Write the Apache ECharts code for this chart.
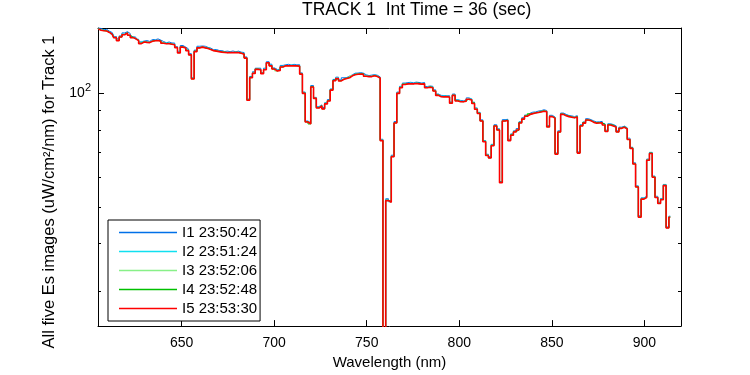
<!DOCTYPE html>
<html>
  <head>
    <meta charset="utf-8" />
    <title>TRACK 1 Es images</title>
    <script src="https://cdn.jsdelivr.net/npm/echarts@6/dist/echarts.min.js"></script>
    <style>
      html, body { margin: 0; padding: 0; width: 750px; height: 375px; background: #fff; }
      #main { width: 750px; height: 375px; }
    </style>
  </head>
  <body>
    <div id="main"></div>
    <script type="text/javascript">
      // instrument sampling grid (nm)
      var wlStart = 605, wlStep = 1.5;

      var seriesNames = ['I1 23:50:42', 'I2 23:51:24', 'I3 23:52:06', 'I4 23:52:48', 'I5 23:53:30'];
      var seriesColors = ['#0070E8', '#10E0F0', '#88F088', '#00C000', '#FF0000'];

      var xTicks = [650, 700, 750, 800, 850, 900];
      var yMajorTicks = [100];
      var yMinorTicks = [30, 40, 50, 60, 70, 80, 90];

      var I1 = [
        149.2, 148.6, 147.4, 147.8, 146.1, 144.9, 141.4, 139.5, 142.0, 144.6,
        145.7, 144.0, 141.3, 140.9, 139.1, 136.9, 137.6, 138.0, 137.3, 138.9,
        138.7, 139.4, 138.4, 137.2, 136.2, 136.8, 136.0, 135.9, 133.0, 129.3,
        133.9, 132.6, 131.1, 127.4, 110.0, 130.2, 133.3, 133.5, 133.3, 132.4,
        131.8, 130.5, 130.7, 129.9, 129.8, 129.1, 129.4, 129.0, 129.5, 128.9,
        129.4, 128.6, 128.3, 124.9, 96.5, 110.9, 114.1, 116.6, 116.6, 113.5,
        116.6, 121.3, 119.5, 116.8, 115.7, 115.8, 118.6, 119.1, 119.4, 118.9,
        119.4, 119.0, 119.1, 113.3, 100.8, 84.5, 83.6, 104.9, 97.6, 92.3,
        93.2, 91.8, 94.4, 96.3, 102.7, 108.9, 110.4, 108.6, 110.0, 110.2,
        111.0, 112.0, 113.1, 113.2, 113.5, 113.1, 112.0, 111.5, 111.8, 112.1,
        111.7, 110.6, 75.6, 20.2, 52.6, 51.9, 68.6, 84.2, 100.8, 104.4,
        106.5, 106.8, 107.0, 106.7, 107.1, 106.9, 106.5, 106.9, 104.3, 104.6,
        104.4, 102.2, 99.6, 98.8, 98.7, 98.5, 98.6, 94.9, 99.6, 96.2,
        95.8, 95.6, 96.1, 97.3, 96.7, 94.8, 91.5, 89.1, 85.1, 75.0,
        69.0, 68.0, 73.3, 82.6, 80.6, 58.4, 85.2, 85.4, 75.6, 78.1,
        79.6, 80.7, 84.1, 86.2, 87.6, 88.6, 89.2, 89.3, 89.8, 90.0,
        90.5, 90.1, 82.1, 87.5, 86.6, 69.5, 79.6, 88.7, 88.0, 87.4,
        87.2, 86.8, 87.3, 70.0, 82.6, 84.0, 85.7, 85.2, 84.5, 84.0,
        84.1, 84.3, 83.1, 79.9, 83.1, 82.7, 82.1, 79.6, 81.4, 81.9,
        81.1, 76.1, 72.0, 65.5, 56.9, 47.4, 52.9, 53.4, 67.0, 69.8,
        60.4, 53.4, 51.5, 52.7, 57.4, 44.3, 47.3
      ];
      var I2 = [
        148.5, 147.2, 147.1, 146.6, 145.7, 143.4, 141.0, 138.4, 141.2, 143.6,
        145.1, 142.7, 141.1, 139.8, 138.7, 135.6, 137.3, 136.9, 136.5, 138.0,
        138.3, 138.2, 138.1, 136.1, 136.1, 135.5, 135.5, 134.9, 132.4, 128.6,
        133.1, 132.0, 130.4, 126.8, 109.9, 129.1, 132.5, 133.0, 132.2, 132.1,
        131.1, 130.0, 130.0, 129.3, 129.3, 128.4, 128.7, 128.6, 128.4, 128.8,
        128.7, 128.0, 127.6, 124.3, 96.6, 110.1, 113.5, 116.2, 115.7, 113.4,
        116.0, 120.7, 118.9, 116.3, 115.3, 115.1, 118.0, 118.7, 118.5, 118.9,
        118.8, 118.5, 118.6, 112.8, 100.7, 84.1, 83.3, 104.4, 97.2, 92.1,
        93.1, 91.2, 94.4, 95.8, 102.7, 108.1, 110.0, 108.3, 109.2, 110.1,
        110.5, 111.5, 112.7, 112.7, 113.2, 112.5, 111.5, 111.2, 111.0, 111.9,
        111.3, 110.0, 75.4, 20.1, 52.4, 51.6, 68.3, 83.7, 100.2, 104.1,
        106.1, 106.2, 106.6, 106.3, 106.9, 106.1, 106.3, 106.4, 103.7, 104.4,
        104.0, 101.7, 99.4, 98.3, 98.6, 98.0, 98.3, 94.6, 99.0, 96.1,
        95.5, 95.2, 95.9, 96.8, 96.7, 94.1, 91.3, 88.9, 84.6, 74.9,
        68.8, 67.6, 73.1, 82.2, 80.4, 58.1, 84.8, 85.0, 75.1, 77.9,
        79.3, 80.1, 83.9, 85.7, 87.4, 88.0, 88.8, 88.9, 89.1, 89.7,
        90.0, 89.6, 81.9, 87.0, 86.4, 69.1, 79.3, 88.2, 87.4, 87.2,
        86.8, 86.3, 87.0, 69.7, 82.4, 83.5, 85.3, 84.8, 83.9, 83.8,
        83.8, 83.7, 82.9, 79.5, 82.9, 82.1, 81.8, 79.2, 80.9, 81.7,
        80.8, 75.6, 71.8, 65.2, 56.8, 47.1, 52.8, 53.2, 66.6, 69.6,
        60.2, 53.1, 51.3, 52.5, 57.3, 44.1, 47.2
      ];
      var I3 = [
        148.1, 147.2, 146.5, 146.4, 145.0, 143.5, 140.6, 138.0, 141.2, 143.1,
        144.7, 142.7, 140.5, 139.6, 138.0, 135.7, 136.9, 136.5, 136.5, 137.5,
        137.9, 138.2, 137.5, 135.9, 135.4, 135.6, 135.1, 134.5, 132.4, 128.1,
        132.7, 132.0, 129.8, 126.6, 109.2, 129.2, 132.1, 132.6, 132.2, 131.6,
        130.7, 130.0, 129.4, 129.1, 128.6, 128.5, 128.3, 128.2, 128.4, 128.3,
        128.3, 128.0, 127.0, 124.1, 95.9, 110.2, 113.1, 115.8, 115.7, 112.9,
        115.6, 120.7, 118.3, 116.1, 114.6, 115.2, 117.6, 118.3, 118.5, 118.4,
        118.4, 118.5, 118.0, 112.6, 100.0, 84.1, 83.1, 104.0, 97.1, 91.6,
        92.7, 91.1, 93.8, 95.6, 102.0, 108.2, 109.6, 107.9, 109.2, 109.6,
        110.1, 111.5, 112.1, 112.5, 112.5, 112.6, 111.1, 110.8, 111.0, 111.4,
        110.9, 110.0, 75.0, 20.0, 52.0, 51.6, 68.1, 83.5, 100.2, 103.6,
        105.7, 106.2, 106.0, 106.1, 106.2, 106.2, 105.9, 106.0, 103.7, 103.9,
        103.6, 101.7, 98.8, 98.1, 97.9, 98.1, 97.9, 94.2, 99.0, 95.6,
        95.1, 95.2, 95.3, 96.6, 96.0, 94.2, 90.9, 88.5, 84.7, 74.6,
        68.6, 67.6, 72.7, 82.1, 80.0, 58.1, 84.6, 84.8, 75.2, 77.6,
        79.1, 80.2, 83.5, 85.6, 87.0, 88.1, 88.5, 88.7, 89.2, 89.4,
        89.8, 89.7, 81.5, 86.9, 86.0, 69.1, 79.1, 88.0, 87.5, 86.9,
        86.6, 86.4, 86.6, 69.6, 82.0, 83.6, 85.1, 84.6, 84.0, 83.5,
        83.6, 83.8, 82.5, 79.4, 82.5, 82.2, 81.6, 79.0, 81.0, 81.4,
        80.6, 75.7, 71.5, 65.1, 56.5, 47.1, 52.6, 53.0, 66.6, 69.4,
        60.1, 53.1, 51.1, 52.4, 57.0, 44.1, 47.1
      ];
      var I4 = [
        148.2, 147.0, 146.8, 146.4, 145.2, 143.7, 140.5, 138.2, 141.1, 143.3,
        144.8, 142.5, 140.8, 139.6, 138.2, 135.9, 136.8, 136.7, 136.4, 137.7,
        138.0, 138.0, 137.8, 135.9, 135.6, 135.8, 135.0, 134.7, 132.3, 128.3,
        132.8, 131.8, 130.1, 126.6, 109.4, 129.4, 132.0, 132.8, 132.1, 131.8,
        130.8, 129.8, 129.7, 129.1, 128.8, 128.7, 128.2, 128.4, 128.3, 128.5,
        128.4, 127.8, 127.3, 124.1, 96.1, 110.4, 113.0, 116.0, 115.6, 113.1,
        115.7, 120.5, 118.6, 116.1, 114.8, 115.4, 117.5, 118.5, 118.4, 118.6,
        118.5, 118.3, 118.3, 112.6, 100.2, 84.2, 83.0, 104.2, 97.1, 91.7,
        92.8, 91.0, 94.1, 95.6, 102.2, 108.4, 109.5, 108.1, 109.1, 109.8,
        110.2, 111.3, 112.4, 112.5, 112.7, 112.8, 111.0, 111.0, 110.9, 111.6,
        111.0, 109.8, 75.1, 20.0, 52.1, 51.7, 68.0, 83.6, 100.1, 103.8,
        105.8, 106.0, 106.3, 106.1, 106.4, 106.4, 105.8, 106.2, 103.6, 104.1,
        103.7, 101.5, 99.1, 98.1, 98.1, 98.3, 97.8, 94.4, 98.9, 95.8,
        95.2, 95.0, 95.6, 96.6, 96.2, 94.4, 90.8, 88.7, 84.6, 74.7,
        68.6, 67.5, 72.9, 82.1, 80.1, 58.2, 84.5, 85.0, 75.1, 77.7,
        79.2, 80.0, 83.8, 85.6, 87.2, 88.3, 88.4, 88.9, 89.1, 89.6,
        89.9, 89.5, 81.8, 86.9, 86.2, 69.2, 79.0, 88.2, 87.4, 87.1,
        86.7, 86.2, 86.9, 69.6, 82.2, 83.8, 85.0, 84.8, 83.9, 83.7,
        83.7, 83.6, 82.8, 79.4, 82.7, 82.4, 81.5, 79.2, 80.9, 81.6,
        80.7, 75.5, 71.7, 65.1, 56.6, 47.1, 52.5, 53.1, 66.6, 69.5,
        60.1, 53.0, 51.2, 52.4, 57.1, 44.1, 47.0
      ];
      var I5 = [
        148.0, 147.0, 146.5, 146.3, 145.0, 143.3, 140.5, 138.0, 141.0, 143.0,
        144.6, 142.5, 140.5, 139.5, 138.0, 135.5, 136.8, 136.5, 136.3, 137.4,
        137.8, 138.0, 137.5, 135.8, 135.4, 135.4, 135.0, 134.5, 132.2, 128.0,
        132.6, 131.8, 129.8, 126.5, 109.2, 129.0, 132.0, 132.6, 132.0, 131.5,
        130.6, 129.8, 129.4, 129.0, 128.6, 128.3, 128.2, 128.2, 128.2, 128.2,
        128.2, 127.8, 127.0, 124.0, 95.9, 110.0, 113.0, 115.8, 115.5, 112.8,
        115.5, 120.5, 118.3, 116.0, 114.6, 115.0, 117.5, 118.3, 118.3, 118.3,
        118.3, 118.3, 118.0, 112.5, 100.0, 84.0, 83.0, 104.0, 97.0, 91.5,
        92.6, 91.0, 93.8, 95.5, 102.0, 108.0, 109.5, 107.9, 109.0, 109.5,
        110.0, 111.3, 112.1, 112.4, 112.5, 112.4, 111.0, 110.8, 110.8, 111.3,
        110.8, 109.8, 75.0, 20.0, 52.0, 51.5, 68.0, 83.5, 100.0, 103.5,
        105.6, 106.0, 106.0, 106.0, 106.2, 106.0, 105.8, 106.0, 103.5, 103.8,
        103.5, 101.5, 98.8, 98.0, 97.9, 97.9, 97.8, 94.2, 98.8, 95.5,
        95.0, 95.0, 95.3, 96.5, 96.0, 94.0, 90.8, 88.5, 84.5, 74.5,
        68.5, 67.5, 72.7, 82.0, 80.0, 58.0, 84.5, 84.8, 75.0, 77.5,
        79.0, 80.0, 83.5, 85.5, 87.0, 87.9, 88.4, 88.7, 89.0, 89.3,
        89.7, 89.5, 81.5, 86.8, 86.0, 69.0, 79.0, 88.0, 87.3, 86.8,
        86.5, 86.2, 86.6, 69.5, 82.0, 83.4, 85.0, 84.6, 83.8, 83.4,
        83.5, 83.6, 82.5, 79.3, 82.5, 82.0, 81.5, 79.0, 80.8, 81.3,
        80.5, 75.5, 71.5, 65.0, 56.5, 47.0, 52.5, 53.0, 66.5, 69.3,
        60.0, 53.0, 51.1, 52.3, 57.0, 44.0, 47.0
      ];
      var allImages = [I1, I2, I3, I4, I5];

      var FONT = '"Liberation Sans", Arial, sans-serif';

      var chartDom = document.getElementById('main');
      var myChart = echarts.init(chartDom, null, { renderer: 'canvas' });

      function toPairs(arr) {
        return arr.map(function (v, i) { return [wlStart + wlStep * i, v]; });
      }

      // the last image is drawn on top, a little wider so the others only peek out
      var series = allImages.map(function (arr, i) {
        var last = i === allImages.length - 1;
        return {
          name: seriesNames[i],
          type: 'line',
          step: 'middle',
          data: toPairs(arr),
          symbol: 'none',
          showSymbol: false,
          color: seriesColors[i],
          lineStyle: { width: last ? 1.6 : 1, color: seriesColors[i] },
          xAxisIndex: 0,
          yAxisIndex: 0,
          silent: true
        };
      });

      var xMin = 604.8, xMax = 919.8;
      var yMin = 24.2, yMax = 149;
      var black = { color: '#000', width: 1 };

      var option = {
        animation: false,
        backgroundColor: '#fff',
        title: {
          text: 'TRACK 1  Int Time = 36 (sec)',
          left: 302,
          top: 1,
          padding: 0,
          textStyle: { fontFamily: FONT, fontSize: 17.5, fontWeight: 'normal', color: '#000' }
        },
        legend: {
          orient: 'vertical',
          left: 108,
          top: 220,
          padding: [4, 3, 4, 11],
          itemGap: 2,
          itemWidth: 58,
          itemHeight: 1.5,
          icon: 'rect',
          borderColor: '#000',
          borderWidth: 1,
          borderRadius: 0,
          backgroundColor: '#fff',
          selectedMode: false,
          textStyle: { fontFamily: FONT, fontSize: 15, color: '#000', lineHeight: 17 },
          data: seriesNames
        },
        grid: { left: 98, right: 69, top: 28, bottom: 44, containLabel: false },
        xAxis: [
          {
            type: 'value', min: xMin, max: xMax, position: 'bottom',
            axisLine: { show: true, onZero: false, lineStyle: black },
            axisTick: { show: true, inside: true, length: 6, customValues: xTicks, lineStyle: black },
            axisLabel: { customValues: xTicks, color: '#000', fontFamily: FONT, fontSize: 14, margin: 10 },
            splitLine: { show: false },
            name: 'Wavelength (nm)',
            nameLocation: 'middle',
            nameGap: 27,
            nameTextStyle: { fontFamily: FONT, fontSize: 15, color: '#000' }
          },
          {
            type: 'value', min: xMin, max: xMax, position: 'top',
            axisLine: { show: true, onZero: false, lineStyle: black },
            axisTick: { show: true, inside: true, length: 6, customValues: xTicks, lineStyle: black },
            axisLabel: { show: false },
            splitLine: { show: false }
          }
        ],
        yAxis: [
          {
            type: 'log', logBase: 10, min: yMin, max: yMax, position: 'left',
            axisLine: { show: true, onZero: false, lineStyle: black },
            axisTick: { show: true, inside: true, length: 6, customValues: yMajorTicks, lineStyle: black },
            axisLabel: {
              customValues: yMajorTicks,
              margin: 7,
              formatter: function () { return '{b|10}{s|2}'; },
              rich: {
                b: { fontFamily: FONT, fontSize: 14, color: '#000' },
                s: { fontFamily: FONT, fontSize: 11, color: '#000', padding: [0, 0, 10, 0] }
              }
            },
            splitLine: { show: false },
            minorTick: { show: false },
            name: 'All five Es images (uW/cm\u00b2/nm) for Track 1',
            nameLocation: 'middle',
            nameGap: 37,
            nameTextStyle: { fontFamily: FONT, fontSize: 16.5, color: '#000', padding: [0, 30, 0, 0] }
          },
          {
            type: 'log', logBase: 10, min: yMin, max: yMax, position: 'left',
            axisLine: { show: false },
            axisTick: { show: true, inside: true, length: 3, customValues: yMinorTicks, lineStyle: black },
            axisLabel: { show: false },
            splitLine: { show: false }
          },
          {
            type: 'log', logBase: 10, min: yMin, max: yMax, position: 'right',
            axisLine: { show: true, onZero: false, lineStyle: black },
            axisTick: { show: true, inside: true, length: 6, customValues: yMajorTicks, lineStyle: black },
            axisLabel: { show: false },
            splitLine: { show: false }
          },
          {
            type: 'log', logBase: 10, min: yMin, max: yMax, position: 'right',
            axisLine: { show: false },
            axisTick: { show: true, inside: true, length: 3, customValues: yMinorTicks, lineStyle: black },
            axisLabel: { show: false },
            splitLine: { show: false }
          }
        ],
        series: series
      };

      myChart.setOption(option);
    </script>
  </body>
</html>
